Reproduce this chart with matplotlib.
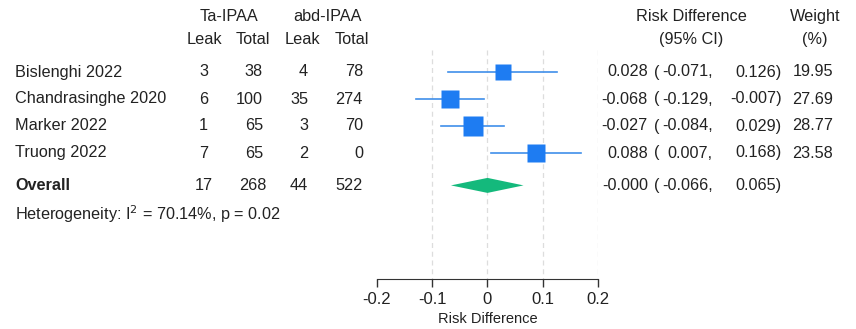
import numpy as np
import matplotlib
matplotlib.use("Agg")
import matplotlib.pyplot as plt
from matplotlib.transforms import blended_transform_factory

plt.rcParams["font.family"] = ["Liberation Sans", "DejaVu Sans"]

# study data
studies = ["Bislenghi 2022", "Chandrasinghe 2020", "Marker 2022", "Truong 2022"]
ta_leak = [3, 6, 1, 7]
ta_total = [38, 100, 65, 65]
abd_leak = [4, 35, 3, 2]
abd_total = [78, 274, 70, 0]
rd = [0.028, -0.068, -0.027, 0.088]
rd_low = [-0.071, -0.129, -0.084, 0.007]
rd_high = [0.126, -0.007, 0.029, 0.168]
weights = [19.95, 27.69, 28.77, 23.58]

# pooled result
overall_counts = [17, 268, 44, 522]
overall_rd = -0.000
overall_low = -0.066
overall_high = 0.065
i2 = 70.14
p_het = 0.02

W, H = 856, 329
fig = plt.figure(figsize=(W / 100, H / 100), dpi=100)
# forest panel: x from -0.2 to 0.2, full height
ax = fig.add_axes([376.7 / W, 50 / H, (598.3 - 376.7) / W, 279 / H])
row_px = 27.0
ax.set_ylim((279 - 72) / row_px, -72 / row_px)
ax.set_xlim(-0.2, 0.2)

txt = "#222222"
fs = 11.7
tr = blended_transform_factory(fig.transFigure, ax.transData)

def col(xpx, y, s, ha="right", **kw):
    ax.text(xpx / W, y, s, transform=tr, ha=ha, va="center",
            fontsize=fs, color=txt, **kw)

n = len(studies)
ys = np.arange(n)
y_over = n + 0.2
y_het = n + 1.27
y_h1 = -2.07
y_h2 = -1.22

# dashed reference lines
for xv in [-0.1, 0, 0.1, 0.2]:
    ax.plot([xv, xv], [-0.8, ax.get_ylim()[0]], ls=(0, (4, 3)),
            color="#dddddd", lw=0.9, zorder=0)

# confidence intervals and squares
for i in range(n):
    ax.plot([rd_low[i], rd_high[i]], [ys[i], ys[i]], color="#3f8fea",
            lw=1.2, zorder=2)
    ax.plot(rd[i], ys[i], marker="s", ms=3.6 * np.sqrt(weights[i]) * 0.72,
            color="#1e7cf2", mec="none", zorder=3)

# diamond for overall
hd = 7.5 / row_px
ax.fill([overall_low, overall_rd, overall_high, overall_rd],
        [y_over, y_over - hd, y_over, y_over + hd],
        color="#14b97c", zorder=3, lw=0)

# headers
col(229, y_h1, "Ta-IPAA", ha="center")
col(327, y_h1, "abd-IPAA", ha="center")
col(204, y_h2, "Leak", ha="center")
col(253, y_h2, "Total", ha="center")
col(302, y_h2, "Leak", ha="center")
col(352, y_h2, "Total", ha="center")
col(691, y_h1, "Risk Difference", ha="center")
col(691, y_h2, "(95% CI)", ha="center")
col(815, y_h1, "Weight", ha="center")
col(815, y_h2, "(%)", ha="center")

# study rows
for i in range(n):
    y = ys[i]
    col(15, y, studies[i], ha="left")
    col(208, y, str(ta_leak[i]))
    col(263, y, str(ta_total[i]))
    col(308, y, str(abd_leak[i]))
    col(363, y, str(abd_total[i]))
    col(648, y, f"{rd[i]:.3f}")
    col(654, y, "(", ha="left")
    col(713, y, f"{rd_low[i]:.3f},")
    col(782, y, f"{rd_high[i]:.3f})")
    col(833, y, f"{weights[i]:.2f}")

# overall row
col(15, y_over, "Overall", ha="left", fontweight="bold")
col(213, y_over, str(overall_counts[0]))
col(266, y_over, str(overall_counts[1]))
col(308, y_over, str(overall_counts[2]))
col(363, y_over, str(overall_counts[3]))
col(648, y_over, f"-{abs(overall_rd):.3f}")
col(654, y_over, "(", ha="left")
col(713, y_over, f"{overall_low:.3f},")
col(782, y_over, f"{overall_high:.3f})")
col(15, y_het, f"Heterogeneity: I$^2$ = {i2:.2f}%, p = {p_het:.2f}", ha="left")

# axis styling
for s in ["top", "right", "left"]:
    ax.spines[s].set_visible(False)
ax.spines["bottom"].set_color("#333333")
ax.set_yticks([])
ax.set_xticks([-0.2, -0.1, 0, 0.1, 0.2])
ax.set_xticklabels(["-0.2", "-0.1", "0", "0.1", "0.2"])
ax.tick_params(axis="x", length=6, width=1, colors="#333333",
               labelcolor=txt, labelsize=12, pad=3)
ax.set_xlabel("Risk Difference", fontsize=10.5, color=txt, labelpad=4)
ax.patch.set_alpha(0)

fig.savefig("out.png", dpi=100)
